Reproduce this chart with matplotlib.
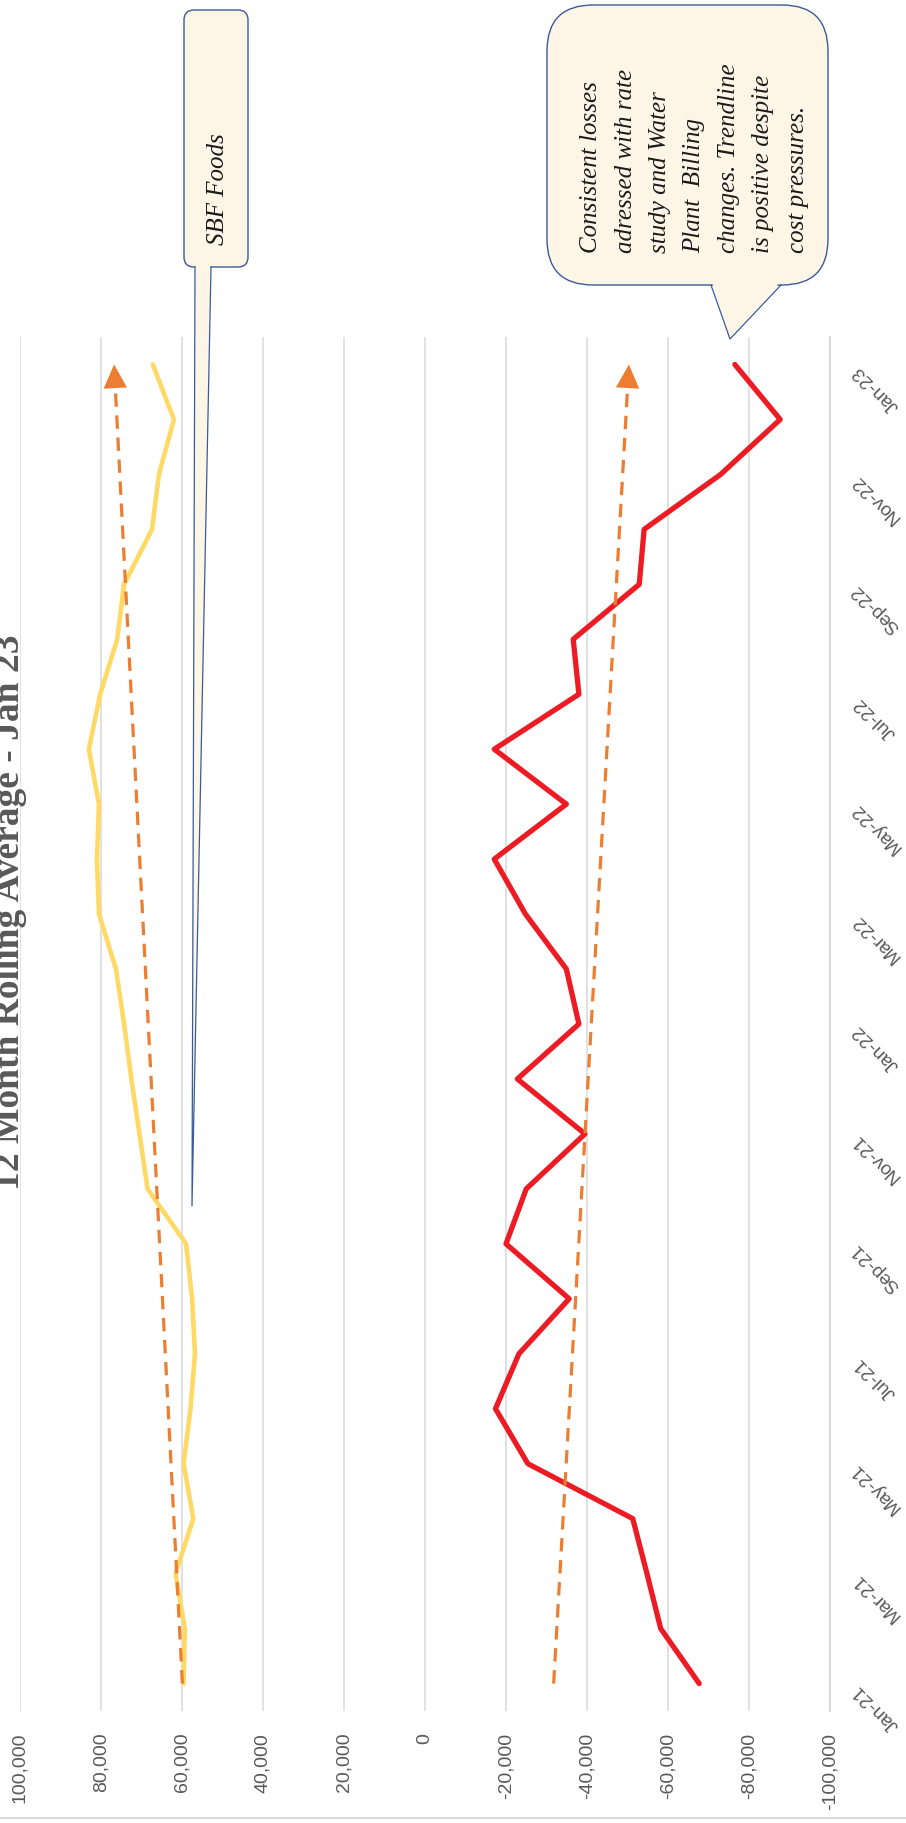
import numpy as np
import matplotlib
matplotlib.use("Agg")
import matplotlib.pyplot as plt
from matplotlib.patches import FancyBboxPatch, Polygon
from matplotlib.ticker import FuncFormatter
import matplotlib.transforms as mtransforms

# ---------------- data ----------------
months = ["Jan-21", "Feb-21", "Mar-21", "Apr-21", "May-21", "Jun-21", "Jul-21",
          "Aug-21", "Sep-21", "Oct-21", "Nov-21", "Dec-21", "Jan-22", "Feb-22",
          "Mar-22", "Apr-22", "May-22", "Jun-22", "Jul-22", "Aug-22", "Sep-22",
          "Oct-22", "Nov-22", "Dec-22", "Jan-23"]

sbf_foods = [59600, 59300, 61600, 57200, 59600, 57900, 56800, 57500, 59000,
             68500, 70500, 72500, 74300, 76300, 80500, 81000, 80500, 83000,
             80200, 76000, 74300, 67400, 65700, 62000, 67200]

water_plant = [-67700, -58200, -54800, -51300, -25400, -17400, -23200, -35600,
               -20000, -25000, -39500, -22800, -38000, -34900, -24800, -17100,
               -34900, -17100, -38000, -36600, -52900, -54100, -73000, -87700,
               -76500]

value_ticks = list(range(-100000, 100001, 20000))
category_ticks = months[::2]

title = "12 Month Rolling Average - Jan 23"
note_sbf = "SBF Foods"
note_lines = ["Consistent losses", "adressed with rate", "study and Water",
              "Plant  Billing", "changes. Trendline", "is positive despite",
              "cost pressures."]

# ---------------- style ----------------
W, H = 906, 1824
RED = "#ED1C24"
YELLOW = "#FFD966"
ORANGE = "#ED7D31"
GRID = "#D9D9D9"
LABEL = "#595959"
CREAM = "#FDF6E7"
BLUE = "#3A5A9A"

fig = plt.figure(figsize=(W / 100, H / 100), dpi=100)
fig.patch.set_facecolor("white")

ax = fig.add_axes([20 / W, (H - 1712) / H, 810 / W, 1374 / H])
idx = np.arange(len(months))

ax.set_xlim(100000, -100000)
ax.set_ylim(-0.5, len(months) - 0.5)

ax.set_axisbelow(True)
ax.grid(axis="x", color=GRID, lw=1.1)
for s in ["top", "left", "bottom"]:
    ax.spines[s].set_visible(False)
ax.spines["right"].set_color(GRID)
ax.spines["right"].set_linewidth(1.5)

# series
ax.plot(sbf_foods, idx, color=YELLOW, lw=3.3, solid_joinstyle="round",
        solid_capstyle="round", zorder=3)
ax.plot(water_plant, idx, color=RED, lw=3.8, solid_joinstyle="round",
        solid_capstyle="round", zorder=3)

# linear trendlines with arrow heads
for vals in (sbf_foods, water_plant):
    k, b = np.polyfit(idx, np.asarray(vals, float), 1)
    trend = k * idx + b
    ax.plot(trend, idx, color=ORANGE, lw=2.3, ls=(0, (4.2, 2.7)), zorder=4)
    ax.annotate("", xy=(trend[-1], idx[-1]), xytext=(trend[-2], idx[-2]),
                arrowprops=dict(arrowstyle="-|>,head_length=0.85,head_width=0.42",
                                mutation_scale=20, color=ORANGE, lw=0,
                                shrinkA=0, shrinkB=0),
                zorder=5)

# value axis (bottom)
ax.set_xticks(value_ticks)
ax.xaxis.set_major_formatter(FuncFormatter(lambda v, p: f"{int(round(v)):,}"))
ax.tick_params(axis="x", length=0, pad=15, labelsize=14, labelcolor=LABEL,
               labelrotation=90)
for lab in ax.get_xticklabels():
    lab.set_fontfamily("Liberation Sans")

# category axis (right)
ax.yaxis.tick_right()
ax.set_yticks(idx[::2])
ax.set_yticklabels(category_ticks)
ax.tick_params(axis="y", length=0, pad=33, labelsize=13.5, labelcolor=LABEL)
shift = mtransforms.ScaledTranslation(0, -23 / 100, fig.dpi_scale_trans)
for lab in ax.get_yticklabels():
    lab.set_fontfamily("Liberation Sans")
    lab.set_rotation(135)
    lab.set_rotation_mode("anchor")
    lab.set_ha("center")
    lab.set_va("center")
    lab.set_transform(lab.get_transform() + shift)

# ---------------- overlay (pixel coordinates) ----------------
ov = fig.add_axes([0, 0, 1, 1], zorder=10)
ov.set_xlim(0, W)
ov.set_ylim(H, 0)
ov.axis("off")
ov.patch.set_alpha(0)

# title (rotated, partly cut by left edge as in the source)
ov.text(19, 912, title, rotation=90, rotation_mode="anchor", ha="center",
        va="baseline", fontsize=27, fontweight="bold", color=LABEL,
        family="Liberation Serif")

# bottom border of chart area
ov.plot([0, W], [1819, 1819], color=GRID, lw=1.5)

# SBF Foods callout
ov.add_patch(FancyBboxPatch((184, 11), 64, 257,
                            boxstyle="round,pad=0,rounding_size=10",
                            fc=CREAM, ec=BLUE, lw=1.0))
ov.add_patch(Polygon([(195.5, 265), (210.5, 265), (192, 1207)], closed=True,
                     fc=CREAM, ec="none"))
ov.plot([195, 192, 211], [268, 1207, 268], color=BLUE, lw=0.9)
ov.text(224, 245, note_sbf, rotation=90, rotation_mode="anchor", ha="left",
        va="baseline", fontsize=18, style="italic", color="#1A1A1A",
        family="Liberation Serif")

# Big callout
ov.add_patch(FancyBboxPatch((547, 6), 281, 280,
                            boxstyle="round,pad=0,rounding_size=46",
                            fc=CREAM, ec=BLUE, lw=1.0))
ov.add_patch(Polygon([(712, 283), (780, 283), (730, 340)], closed=True,
                     fc=CREAM, ec="none"))
ov.plot([711, 730, 781], [286, 340, 286], color=BLUE, lw=0.9)
for i, line in enumerate(note_lines):
    ov.text(597 + 34.5 * i, 253, line, rotation=90, rotation_mode="anchor",
            ha="left", va="baseline", fontsize=18, style="italic",
            color="#1A1A1A", family="Liberation Serif")

fig.savefig("out.png", dpi=100, facecolor="white")
